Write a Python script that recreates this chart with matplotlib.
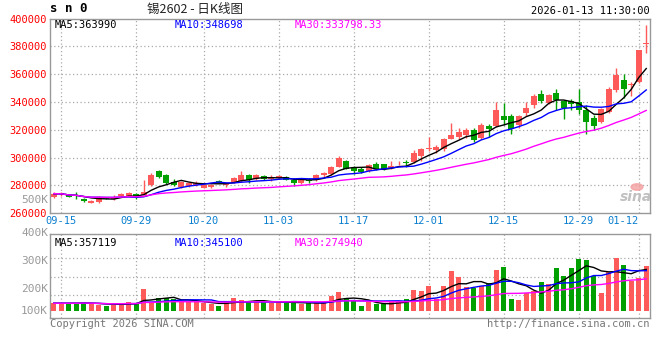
import numpy as np
import pandas as pd
import matplotlib
matplotlib.use('Agg')
from matplotlib import pyplot as plt

# daily candles for sn0, 2025-09-12 .. 2026-01-13
opens = [271600, 273700, 273100, 273100, 270100, 267600, 267900, 271400, 270400, 272100,
         272600, 274100, 273300, 280000, 290400, 287400, 282700, 278800, 279500, 280000,
         278300, 279000, 283200, 280000, 282000, 283200, 287700, 284400, 286700, 284900,
         285200, 285900, 283900, 281500, 283700, 283700, 287400, 288200, 293600, 297500,
         292300, 291600, 290400, 295200, 295200, 292300, 295800, 296400, 296900, 301000,
         306500, 305500, 306000, 313200, 315100, 316100, 319900, 314400, 322800, 322800,
         330000, 329700, 323200, 332100, 337600, 345500, 339300, 346500, 340700, 340500,
         339800, 334000, 328500, 325600, 332800, 348400, 356100, 352000, 354400, 381500]
highs = [275000, 275500, 274000, 275000, 270900, 269600, 272600, 271700, 273100, 274600,
         275600, 274600, 284000, 289100, 290900, 288200, 284400, 283200, 282500, 283500,
         281000, 281200, 283700, 282700, 285900, 290400, 288400, 288400, 287400, 287400,
         287200, 286700, 285000, 284900, 285200, 288400, 289600, 294300, 301200, 298500,
         293800, 293300, 295700, 297100, 295400, 297600, 297400, 298100, 305500, 307200,
         314600, 308900, 314400, 324700, 321600, 321100, 321600, 324700, 324000, 340100,
         339600, 331100, 330900, 340000, 345500, 348400, 345500, 349100, 341700, 342400,
         349600, 337600, 330400, 335700, 350800, 364700, 359900, 354400, 377700, 395200]
lows = [270900, 272100, 271400, 270600, 268100, 267200, 267700, 270400, 269900, 271400,
        272100, 270100, 272800, 279500, 285400, 281200, 279500, 278300, 279000, 279500,
        278000, 278300, 281500, 279000, 281500, 282500, 282000, 284000, 283900, 283200,
        284900, 283700, 279500, 281000, 281800, 283200, 286200, 287700, 293300, 291500,
        288500, 288700, 289700, 290900, 291400, 291600, 294700, 293500, 296400, 297600,
        304600, 303600, 304800, 313200, 313700, 314400, 311300, 313200, 314900, 322100,
        323600, 316700, 321500, 329700, 335900, 339300, 338800, 334000, 328000, 334000,
        331600, 317200, 319600, 325100, 332300, 347200, 343100, 344100, 353700, 375300]
closes = [274100, 273900, 271600, 272100, 268600, 269100, 271400, 270600, 271400, 274100,
          274300, 271400, 275600, 287400, 286200, 282000, 280200, 282500, 281500, 281500,
          280500, 280500, 282000, 282000, 285200, 287400, 283700, 287400, 284400, 285200,
          286700, 284200, 281500, 284200, 283200, 287700, 289100, 293300, 299800, 291800,
          290500, 289700, 294500, 291600, 291600, 294000, 296100, 296000, 303100, 306000,
          307000, 307400, 313200, 316600, 318200, 319900, 312700, 323300, 320400, 334100,
          327000, 320800, 329700, 335700, 344100, 340700, 344800, 341700, 335700, 338500,
          334000, 325600, 322500, 334700, 349600, 359200, 349100, 352700, 377200, 382000]
volumes = [68600, 68600, 68600, 68600, 77200, 62900, 57200, 48600, 57200, 68600,
           77200, 68600, 188800, 80100, 111500, 111500, 103000, 82900, 77200, 77200,
           71500, 62900, 48600, 77200, 111500, 94400, 82900, 82900, 80100, 74400,
           77200, 74400, 74400, 65800, 68600, 68600, 71500, 131600, 163000, 111500,
           85800, 42900, 77200, 60100, 62900, 77200, 80100, 103000, 180200, 171600,
           214500, 105800, 214500, 346100, 294600, 208800, 200200, 214500, 237400, 354600,
           377500, 105800, 94400, 154400, 168700, 248800, 234500, 371800, 303200, 371800,
           449000, 440400, 300300, 157300, 331800, 457600, 394700, 257400, 286000, 386100]

label_days = ['09-15', '09-29', '10-20', '11-03', '11-17', '12-01', '12-15', '12-29', '01-12']
holidays = ['2025-10-01', '2025-10-02', '2025-10-03', '2025-10-06', '2025-10-07',
            '2025-10-08', '2026-01-01', '2026-01-02']
days = pd.bdate_range('2025-09-12', '2026-01-13')
days = days[~days.isin(pd.to_datetime(holidays))]
day_str = list(days.strftime('%m-%d'))
tick_idx = [day_str.index(d) for d in label_days]

price_ticks = list(range(260000, 400001, 20000))

UP = '#ff5a5a'
DOWN = '#00a000'
GRID = '#aaaaaa'
FRAME = '#999999'
MONO = 'DejaVu Sans Mono'

W, H = 660, 360
fig = plt.figure(figsize=(W / 100, H / 100), dpi=100)


def box(x0, y0, x1, y1):
    return [x0 / W, 1 - y1 / H, (x1 - x0) / W, (y1 - y0) / H]


ax = fig.add_axes(box(50, 18.5, 650, 213.3))
axv = fig.add_axes(box(50, 234, 650, 318))

o = np.array(opens); c = np.array(closes)
hi = np.array(highs); lo = np.array(lows)
vol = np.array(volumes)
x = np.arange(len(o))
colors = [UP if cc >= oo else DOWN for oo, cc in zip(o, c)]

# price panel
ax.vlines(x, lo, hi, colors=colors, lw=1, zorder=3)
body = np.maximum(np.abs(c - o), 700)
ax.bar(x, body, bottom=np.minimum(o, c), width=0.74, color=colors, lw=0, zorder=4)

cs = pd.Series(c.astype(float))
ax.plot(x, cs.rolling(5, min_periods=1).mean(), color='black', lw=1, zorder=5)
ax.plot(x, cs.rolling(10, min_periods=1).mean(), color='#0000ff', lw=1, zorder=5)
ax.plot(x, cs.rolling(30, min_periods=1).mean(), color='#ff00ff', lw=1, zorder=5)

ax.set_xlim(-0.5, len(x) - 0.5)
ax.set_ylim(260000, 400000)
ax.set_yticks(price_ticks)
ax.set_yticklabels([str(p) for p in price_ticks], color='#ff0000', fontsize=7.5, family=MONO)
ax.set_xticks(tick_idx)
ax.set_xticklabels(label_days, color='#0a7fd0', fontsize=7.5, family=MONO)
ax.get_xticklabels()[-1].set_horizontalalignment('right')
ax.get_xticklabels()[-1].set_x(len(x) - 0.5)
ax.tick_params(length=0, pad=2)
for t in tick_idx:
    ax.axvline(t, color=GRID, lw=0.9, ls=(0, (1, 2)), zorder=1)
for p in price_ticks[1:-1]:
    ax.axhline(p, color=GRID, lw=0.9, ls=(0, (1, 2)), zorder=1)

# volume panel
axv.bar(x, vol, width=0.7, color=colors, lw=0, zorder=3)
vs = pd.Series(vol.astype(float))
axv.plot(x, vs.rolling(5, min_periods=1).mean(), color='black', lw=1, zorder=5)
axv.plot(x, vs.rolling(10, min_periods=1).mean(), color='#0000ff', lw=1, zorder=5)
axv.plot(x, vs.rolling(30, min_periods=1).mean(), color='#ff00ff', lw=1, zorder=5)
axv.set_xlim(-0.5, len(x) - 0.5)
axv.set_ylim(-57000, 658000)
axv.set_xticks([])
axv.set_yticks([])
for t in tick_idx:
    axv.axvline(t, color=GRID, lw=0.9, ls=(0, (1, 2)), zorder=1)
for f in (0.27, 0.49, 0.71):
    axv.plot([0, 1], [f, f], transform=axv.transAxes, color=GRID, lw=0.9,
             ls=(0, (1, 2)), zorder=1)

for a in (ax, axv):
    for s in a.spines.values():
        s.set_color(FRAME)
        s.set_linewidth(1)


def put(px, py, s, **kw):
    kw.setdefault('family', MONO)
    kw.setdefault('fontsize', 7.5)
    fig.text(px / W, 1 - py / H, s, va='center', **kw)


# header
put(50, 9, 's n 0', fontsize=9, weight='bold')
put(195, 9, '锡2602 - 日K线图', ha='center', fontsize=9,
    family=['Noto Sans CJK SC', 'DejaVu Sans'], color='#222222')
put(650, 11, '2026-01-13 11:30:00', ha='right')

# MA legends
put(55, 25, 'MA5:363990', color='black')
put(175, 25, 'MA10:348698', color='#0000ff')
put(295, 25, 'MA30:333798.33', color='#ff00ff')
put(55, 243, 'MA5:357119', color='black')
put(175, 243, 'MA10:345100', color='#0000ff')
put(295, 243, 'MA30:274940', color='#ff00ff')

# volume scale labels
for py, s in [(200, '500K'), (233, '400K'), (261, '300K'), (289, '200K'), (311, '100K')]:
    put(48, py, s, ha='right', color='#999999', fontsize=8)

# watermark and footer
fig.patches.append(plt.Circle((637 / W, 1 - 187 / H), 0.009, transform=fig.transFigure,
                              color='#f4a0a0', alpha=0.8))
put(636, 197, 'sina', ha='center', fontsize=10, style='italic', weight='bold',
    family='DejaVu Sans', color='#c0c0c0')
put(50, 324, 'Copyright 2026 SINA.COM', color='#777777', fontsize=7.5)
put(650, 324, 'http://finance.sina.com.cn', ha='right', color='#777777', fontsize=7.5)

fig.savefig('out.png', dpi=100)
